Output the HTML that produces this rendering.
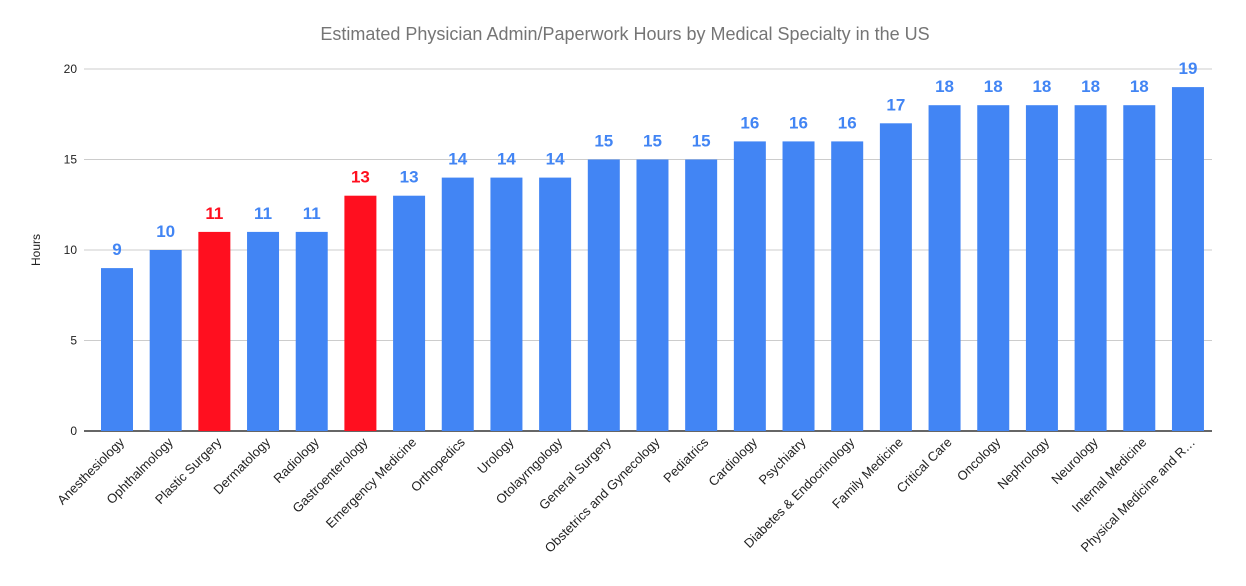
<!DOCTYPE html>
<html><head><meta charset="utf-8"><style>body{margin:0;background:#fff}svg{display:block;font-family:"Liberation Sans",Arial,sans-serif}</style></head>
<body>
<svg id="chart" width="1246" height="586">
<text x="625" y="40" text-anchor="middle" font-size="18" fill="#757575">Estimated Physician Admin/Paperwork Hours by Medical Specialty in the US</text>
<text transform="translate(40,250) rotate(-90)" text-anchor="middle" font-size="12" fill="#222">Hours</text>
<g id="grid"></g><g id="bars"></g><g id="labels"></g>
</svg>
<script>
const categories=["Anesthesiology","Ophthalmology","Plastic Surgery","Dermatology","Radiology","Gastroenterology","Emergency Medicine","Orthopedics","Urology","Otolayrngology","General Surgery","Obstetrics and Gynecology","Pediatrics","Cardiology","Psychiatry","Diabetes & Endocrinology","Family Medicine","Critical Care","Oncology","Nephrology","Neurology","Internal Medicine","Physical Medicine and R…"];
const values=[9,10,11,11,11,13,13,14,14,14,15,15,15,16,16,16,17,18,18,18,18,18,19];
const highlighted=[false,false,true,false,false,true,false,false,false,false,false,false,false,false,false,false,false,false,false,false,false,false,false];
const yTicks=[0,5,10,15,20];
const NS="http://www.w3.org/2000/svg";
const y0=431,yTop=69,yMax=20,x0=117,step=48.68,bw=32;
const y=v=>y0-(y0-yTop)*v/yMax;
const x=i=>x0+i*step;
function mk(t,a,p){const e=document.createElementNS(NS,t);for(const k in a)e.setAttribute(k,a[k]);p.appendChild(e);return e;}
const grid=document.getElementById('grid'),bars=document.getElementById('bars'),labels=document.getElementById('labels');
yTicks.forEach(t=>{
 const l=mk('line',{x1:84,x2:1212,y1:y(t),y2:y(t),stroke:t===0?'#333':'#ccc','stroke-width':t===0?1.5:1},grid);
 
 
 const tx=mk('text',{x:77,y:y(t)+4,'text-anchor':'end','font-size':12,fill:'#222'},grid);tx.textContent=t;
 
 
});
categories.forEach((c,i)=>{
 const col=highlighted[i]?'#ff0f1f':'#4285f4';
 const r=mk('rect',{x:x(i)-bw/2,y:y(values[i]),width:bw,height:y0-y(values[i]),fill:col},bars);
 
 
 const v=mk('text',{x:x(i),y:y(values[i])-13,'text-anchor':'middle','font-size':17,'font-weight':'bold',fill:col},labels);v.textContent=values[i];
 
 
 const t=mk('text',{transform:`translate(${x(i)+8},${y0+12}) rotate(-45)`,'text-anchor':'end','font-size':13,fill:'#222'},labels);t.textContent=c;
 
 
});
</script>
</body></html>
